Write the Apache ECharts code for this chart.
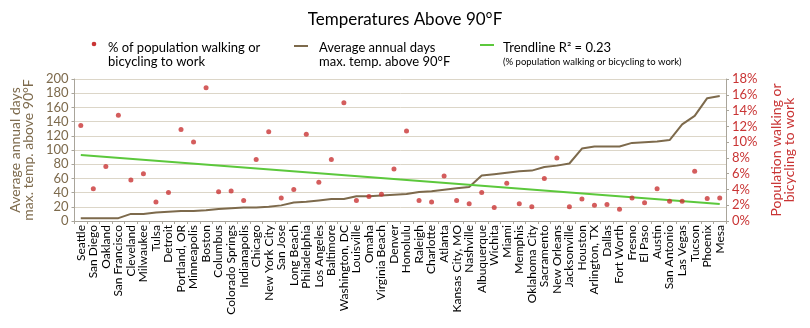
<!DOCTYPE html>
<html>
<head>
<meta charset="utf-8">
<script src="https://cdn.jsdelivr.net/npm/echarts@6/dist/echarts.min.js"></script>
<style>
html,body{margin:0;padding:0;background:#fff;}
#chart{width:810px;height:328px;}
</style>
</head>
<body>
<div id="chart"></div>
<script>
const cities = ["Seattle","San Diego","Oakland","San Francisco","Cleveland","Milwaukee","Tulsa","Detroit","Portland, OR","Minneapolis","Boston","Columbus","Colorado Springs","Indianapolis","Chicago","New York City","San Jose","Long Beach","Philadelphia","Los Angeles","Baltimore","Washington, DC","Louisville","Omaha","Virginia Beach","Denver","Honolulu","Raleigh","Charlotte","Atlanta","Kansas City, MO","Nashville","Albuquerque","Wichita","Miami","Memphis","Oklahoma City","Sacramento","New Orleans","Jacksonville","Houston","Arlington, TX","Dallas","Fort Worth","Fresno","El Paso","Austin","San Antonio","Las Vegas","Tucson","Phoenix","Mesa"];
const daysAbove90 = [4,4,4,4,10,10,12,13,14,14,15,17,18,19,19,20,22,26,27,29,31,31,35,35,36,37,38,41,42,44,46,48,64,66,68,70,71,76,78,81,102,105,105,105,110,111,112,114,136,148,173,176];
const pctWalkBike = [12.1,4.1,6.9,13.4,5.2,6.0,2.4,3.6,11.6,10.0,16.9,3.7,3.8,2.6,7.8,11.3,2.9,4.0,11.0,4.9,7.8,15.0,2.6,3.1,3.4,6.6,11.4,2.6,2.4,5.7,2.6,2.2,3.6,1.7,4.8,2.2,1.8,5.4,8.0,1.8,2.8,2.0,2.1,1.5,2.9,2.3,4.1,2.5,2.5,6.3,2.85,2.9];
const trendStart = 8.36;
const trendEnd = 2.17;
const leftTicks = {min: 0, max: 200, interval: 20};
const rightTicks = {min: 0, max: 18, interval: 2};

const FONT = 'Lato';
const BROWN = '#7d6a4c';
const RED = '#c93434';
const GREEN = '#5cc83c';
const AXIS = '#a9a59b';

const chart = echarts.init(document.getElementById('chart'));
chart.setOption({
  animation: false,
  backgroundColor: '#fff',
  textStyle: {fontFamily: FONT},
  grid: {left: 66, right: 84, top: 79, bottom: 107},
  graphic: [
    {type: 'text', left: 'center', top: 11, style: {text: 'Temperatures Above 90°F', font: '17px Lato', fill: '#000', x: 10}},
    {type: 'circle', shape: {cx: 94, cy: 44, r: 2.3}, style: {fill: RED}},
    {type: 'text', x: 108, y: 41, style: {text: '% of population walking or\nbicycling to work', font: '13px Lato', fill: '#000', lineHeight: 14}},
    {type: 'line', shape: {x1: 294, y1: 46, x2: 308, y2: 46}, style: {stroke: BROWN, lineWidth: 2}},
    {type: 'text', x: 319, y: 41, style: {text: 'Average annual days\nmax. temp. above 90°F', font: '13px Lato', fill: '#000', lineHeight: 14}},
    {type: 'line', shape: {x1: 480, y1: 45, x2: 494, y2: 45}, style: {stroke: GREEN, lineWidth: 2}},
    {type: 'text', x: 503, y: 41, style: {text: 'Trendline R² = 0.23', font: '13px Lato', fill: '#000'}},
    {type: 'text', x: 503, y: 57, style: {text: '(% population walking or bicycling to work)', font: '9.5px Lato', fill: '#000'}}
  ],
  xAxis: {
    type: 'category',
    data: cities,
    boundaryGap: true,
    axisLine: {lineStyle: {color: AXIS}},
    axisTick: {show: true, length: 3, lineStyle: {color: AXIS}},
    axisLabel: {rotate: 90, interval: 0, fontSize: 12, color: '#000', fontFamily: FONT, margin: 4}
  },
  yAxis: [
    {
      type: 'value', position: 'left',
      min: leftTicks.min, max: leftTicks.max, interval: leftTicks.interval,
      name: 'Average annual days\nmax. temp. above 90°F',
      nameLocation: 'middle', nameGap: 31,
      nameTextStyle: {color: BROWN, fontSize: 14, fontFamily: FONT, lineHeight: 13},
      axisLine: {show: true, lineStyle: {color: AXIS}},
      axisTick: {show: true, length: 3, lineStyle: {color: AXIS}},
      axisLabel: {color: BROWN, fontSize: 13, fontFamily: FONT, margin: 6},
      splitLine: {show: true, lineStyle: {color: '#dcd6c8', width: 1}}
    },
    {
      type: 'value', position: 'right',
      min: rightTicks.min, max: rightTicks.max, interval: rightTicks.interval,
      name: 'Population walking or\nbicycling to work',
      nameLocation: 'middle', nameGap: 44,
      nameTextStyle: {color: RED, fontSize: 14, fontFamily: FONT, lineHeight: 13},
      axisLine: {show: true, lineStyle: {color: AXIS}},
      axisTick: {show: true, length: 3, lineStyle: {color: AXIS}},
      axisLabel: {color: RED, fontSize: 13, fontFamily: FONT, margin: 6, formatter: '{value}%'},
      splitLine: {show: false}
    }
  ],
  series: [
    {
      type: 'line', name: 'Average annual days', yAxisIndex: 0,
      data: daysAbove90, symbol: 'none',
      lineStyle: {color: BROWN, width: 2}, z: 2
    },
    {
      type: 'line', name: 'Trendline', yAxisIndex: 1,
      data: [[cities[0], trendStart], [cities[cities.length - 1], trendEnd]],
      symbol: 'none', lineStyle: {color: GREEN, width: 2}, z: 3
    },
    {
      type: 'scatter', name: '% walking or bicycling', yAxisIndex: 1,
      data: pctWalkBike, symbol: 'circle', symbolSize: 5,
      itemStyle: {color: RED}, z: 4
    }
  ]
});
</script>
</body>
</html>
